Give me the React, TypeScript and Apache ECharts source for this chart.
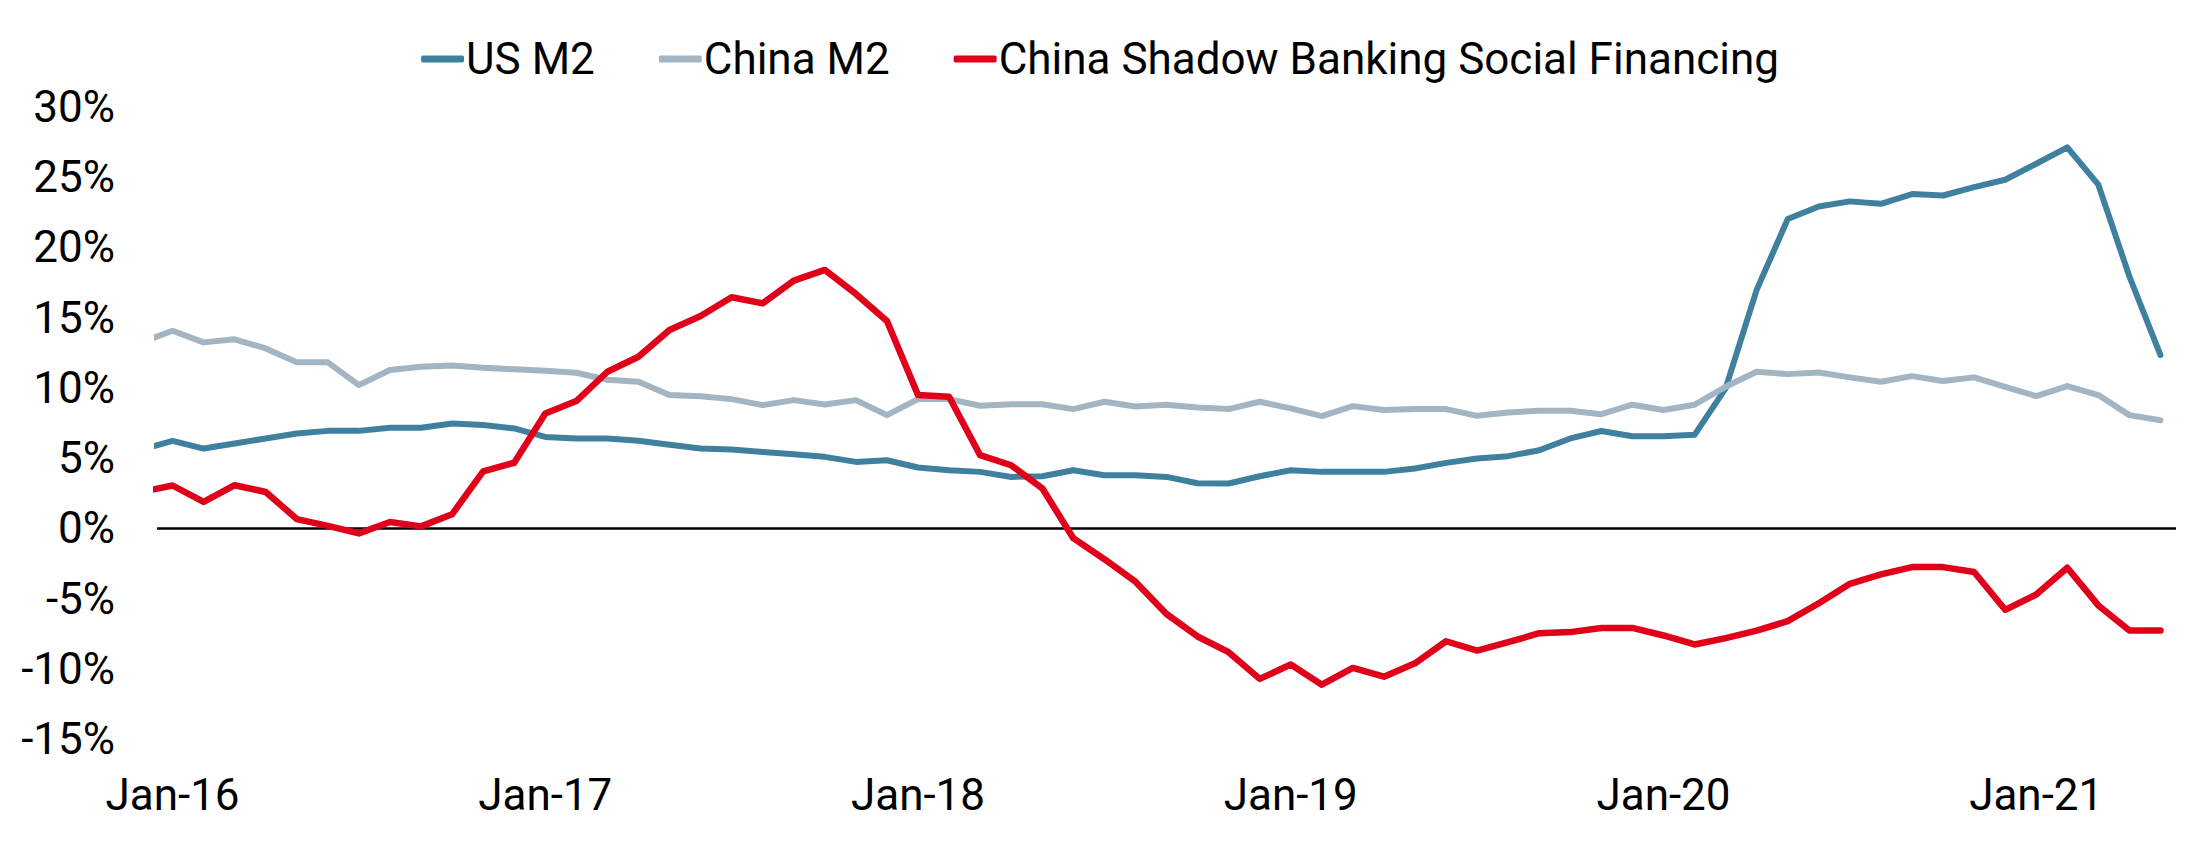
import React, { useEffect, useRef } from "react";
import * as echarts from "echarts";

// Monthly, Dec-15 .. May-21 (Dec-15 sits just left of the plot edge and is clipped)
const monthLabels = [
  "Dec-15",
  "Jan-16","Feb-16","Mar-16","Apr-16","May-16","Jun-16","Jul-16","Aug-16","Sep-16","Oct-16","Nov-16","Dec-16",
  "Jan-17","Feb-17","Mar-17","Apr-17","May-17","Jun-17","Jul-17","Aug-17","Sep-17","Oct-17","Nov-17","Dec-17",
  "Jan-18","Feb-18","Mar-18","Apr-18","May-18","Jun-18","Jul-18","Aug-18","Sep-18","Oct-18","Nov-18","Dec-18",
  "Jan-19","Feb-19","Mar-19","Apr-19","May-19","Jun-19","Jul-19","Aug-19","Sep-19","Oct-19","Nov-19","Dec-19",
  "Jan-20","Feb-20","Mar-20","Apr-20","May-20","Jun-20","Jul-20","Aug-20","Sep-20","Oct-20","Nov-20","Dec-20",
  "Jan-21","Feb-21","Mar-21","Apr-21","May-21",
];

const xTickLabels = ["Jan-16", "Jan-17", "Jan-18", "Jan-19", "Jan-20", "Jan-21"];
const yTicks = [-15, -10, -5, 0, 5, 10, 15, 20, 25, 30];

const usM2 = [
  5.61,
  6.23, 5.68, 6.04, 6.40, 6.75, 6.94, 6.94, 7.16, 7.16, 7.47, 7.35, 7.11,
  6.51, 6.40, 6.40, 6.23, 5.95, 5.68, 5.61, 5.44, 5.28, 5.09, 4.73, 4.85,
  4.33, 4.14, 4.02, 3.66, 3.71, 4.14, 3.78, 3.78, 3.66, 3.21, 3.19, 3.71,
  4.14, 4.02, 4.02, 4.02, 4.26, 4.66, 4.97, 5.14, 5.56, 6.40, 6.93, 6.56,
  6.56, 6.66, 9.96, 16.98, 22.02, 22.92, 23.28, 23.11, 23.80, 23.70, 24.30, 24.82,
  25.96, 27.13, 24.47, 17.93, 12.34,
];

const chinaM2 = [
  13.23,
  14.07, 13.24, 13.46, 12.81, 11.82, 11.82, 10.20, 11.27, 11.51, 11.60, 11.44, 11.32,
  11.22, 11.08, 10.58, 10.44, 9.49, 9.40, 9.20, 8.77, 9.13, 8.82, 9.13, 8.06,
  9.20, 9.20, 8.73, 8.84, 8.84, 8.49, 9.01, 8.68, 8.80, 8.61, 8.49, 9.01,
  8.54, 7.99, 8.70, 8.42, 8.49, 8.49, 8.01, 8.25, 8.37, 8.37, 8.13, 8.80,
  8.42, 8.80, 10.08, 11.15, 10.98, 11.10, 10.75, 10.44, 10.84, 10.49, 10.75, 10.08,
  9.42, 10.13, 9.49, 8.06, 7.70,
];

const shadowBanking = [
  2.60,
  3.05, 1.88, 3.07, 2.59, 0.66, 0.18, -0.36, 0.45, 0.14, 1.00, 4.05, 4.67,
  8.18, 9.06, 11.15, 12.22, 14.12, 15.12, 16.45, 16.02, 17.64, 18.40, 16.69, 14.76,
  9.49, 9.37, 5.21, 4.49, 2.85, -0.70, -2.20, -3.80, -6.10, -7.70, -8.82, -10.72,
  -9.70, -11.13, -9.94, -10.56, -9.61, -8.04, -8.70, -8.11, -7.47, -7.39, -7.09, -7.09,
  -7.63, -8.27, -7.82, -7.28, -6.61, -5.33, -3.95, -3.28, -2.76, -2.76, -3.11, -5.80,
  -4.71, -2.81, -5.49, -7.28, -7.28,
];

const seriesNames = ["US M2", "China M2", "China Shadow Banking Social Financing"];
const seriesColors = ["#40809f", "#a3b5c2", "#e1001a"];

const FONT = "Roboto";

function toPoints(values: number[]) {
  // index 0 = Dec-15 -> x = -1 ; Jan-16 -> x = 0
  return values.map((v, i) => [i - 1, v]);
}

export default function App() {
  const ref = useRef<HTMLDivElement>(null);

  useEffect(() => {
    if (!ref.current) return;
    const chart = echarts.init(ref.current, null, { renderer: "svg" });
    const allSeries = [usM2, chinaM2, shadowBanking];
    const lineWidths = [6, 6, 6.5];

    const option: any = {
      animation: false,
      backgroundColor: "#ffffff",
      legend: {
        top: 32,
        left: "center",
        itemWidth: 43,
        itemHeight: 7,
        itemGap: 64,
        icon: "roundRect",
        data: seriesNames,
        textStyle: {
          fontFamily: FONT,
          fontSize: 44,
          color: "#000",
          padding: [0, 0, 0, -3],
        },
      },
      grid: {
        left: 157,
        right: 24,
        top: 107,
        bottom: 111,
      },
      xAxis: {
        type: "value",
        min: -0.5,
        max: 64.5,
        splitLine: { show: false },
        axisLine: { show: false },
        axisTick: { show: false },
        axisLabel: {
          customValues: xTickLabels.map((_, k) => k * 12),
          formatter: (v: number) => xTickLabels[Math.round(v / 12)] ?? "",
          fontFamily: FONT,
          fontSize: 44,
          color: "#000",
          margin: 34,
        },
      },
      yAxis: {
        type: "value",
        min: yTicks[0],
        max: yTicks[yTicks.length - 1],
        interval: 5,
        splitLine: { show: false },
        axisLine: { show: false },
        axisTick: { show: false },
        axisLabel: {
          formatter: "{value}%",
          fontFamily: FONT,
          fontSize: 44,
          color: "#000",
          margin: 42,
        },
      },
      series: allSeries.map((vals, k) => ({
        name: seriesNames[k],
        type: "line",
        data: toPoints(vals),
        showSymbol: false,
        symbol: "none",
        clip: true,
        color: seriesColors[k],
        lineStyle: { width: lineWidths[k], color: seriesColors[k], cap: "round", join: "round" },
        z: 3 + k,
        ...(k === 0
          ? {
              markLine: {
                silent: true,
                symbol: "none",
                label: { show: false },
                lineStyle: { color: "#000", width: 2.5, type: "solid" },
                data: [{ yAxis: 0 }],
                z: 2,
              },
            }
          : {}),
      })),
    };
    chart.setOption(option);
    return () => chart.dispose();
  }, []);

  return (
    <div
      ref={ref}
      style={{ position: "fixed", left: 0, top: 0, width: 2200, height: 850, background: "#fff" }}
    />
  );
}
